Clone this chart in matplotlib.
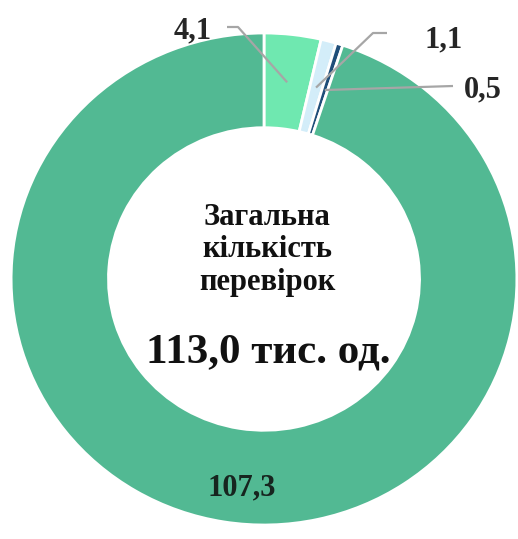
import numpy as np
import matplotlib
matplotlib.use("Agg")
import matplotlib.pyplot as plt

labels = ["4,1", "1,1", "0,5", "107,3"]
values = [4.1, 1.1, 0.5, 107.3]
colors = ["#6FE8B0", "#D3EDF9", "#1F4E79", "#52B993"]
center_title = "Загальна\nкількість\nперевірок"
total_text = "113,0 тис. од."

W, H = 518, 539
sx = 1.028  # slight horizontal stretch of the reference
fig = plt.figure(figsize=(W / 100, H / 100), dpi=100)
ax = fig.add_axes([0, 0, 1, 1])


def P(x, y):
    """pixel coords (from top-left) -> data coords"""
    return x / sx, H - y


cx, cy = P(264, 279)
R = 246
ring = 0.385
wedges, _ = ax.pie(values, colors=colors, startangle=90, counterclock=False,
                   center=(cx, cy), radius=R, frame=True,
                   wedgeprops=dict(width=R * ring, edgecolor="white", linewidth=2.0))
ax.set_xlim(0, W / sx)
ax.set_ylim(0, H)
ax.set_aspect("auto")
ax.axis("off")

font = dict(family="Liberation Serif", fontweight="bold")

label_pos = {0: (193, 38), 1: (444, 47), 2: (483, 97)}
elbows = {0: [(227, 27), (238, 27)], 1: [(387, 33), (373, 33)], 2: [(453, 86)]}
cum = np.cumsum([0] + values[:-1])
total = sum(values)
r_anchor = 198
for i in (0, 1, 2):
    mid = 90 - (cum[i] + values[i] / 2) / total * 360
    axp = cx + r_anchor * np.cos(np.radians(mid))
    ayp = cy + r_anchor * np.sin(np.radians(mid))
    pts = [P(x, y) for x, y in elbows[i]] + [(axp, ayp)]
    xs, ys = zip(*pts)
    ax.plot(xs, ys, color="#A6A6A6", lw=1.6, solid_capstyle="butt")
    tx, ty = P(*label_pos[i])
    ax.text(tx, ty, labels[i], ha="center", va="baseline", fontsize=22,
            color="#262626", **font)

tx, ty = P(242, 495)
ax.text(tx, ty, labels[3], ha="center", va="baseline", fontsize=22,
        color="#17251f", **font)

tx, ty = P(267, 290)
ax.text(tx, ty, center_title, ha="center", va="baseline", fontsize=22,
        linespacing=1.17, color="#111111", **font)
tx, ty = P(268, 363)
ax.text(tx, ty, total_text, ha="center", va="baseline", fontsize=31,
        color="#111111", **font)

fig.savefig("out.png", dpi=100, facecolor="white")
